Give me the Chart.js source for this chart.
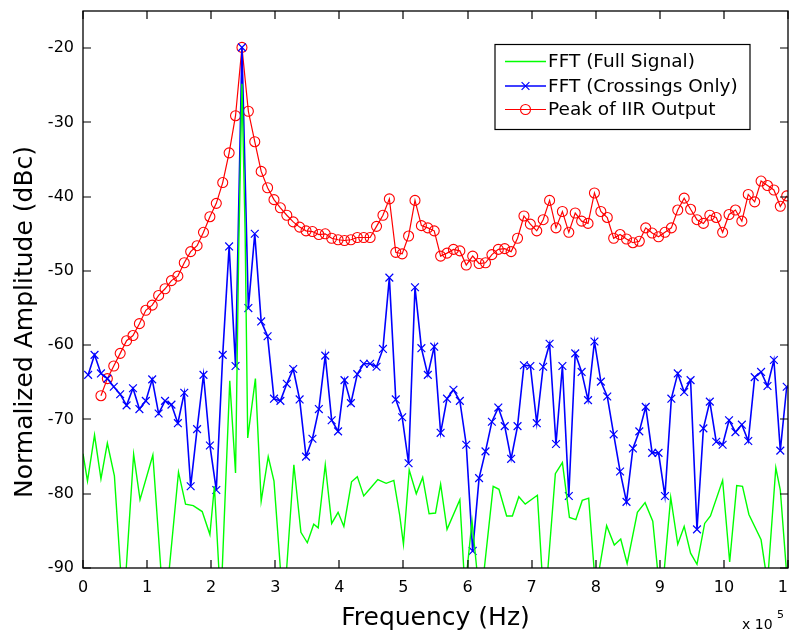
<!DOCTYPE html>
<html><head><meta charset="utf-8">
<script src="https://cdn.jsdelivr.net/npm/chart.js@4/dist/chart.umd.min.js"></script>
<style>html,body{margin:0;padding:0;background:#fff;}#wrap{width:789px;height:632px;}</style>
</head><body><div id="wrap"><canvas id="c" width="789" height="632"></canvas></div>
<script>
// Frequencies in units of 1e5 Hz (shared grid of the marker series)
const freqGrid = [0.08,0.18,0.28,0.38,0.48,0.58,0.68,0.78,0.88,0.98,
1.08,1.18,1.28,1.38,1.48,1.58,1.68,1.78,1.88,1.98,
2.08,2.18,2.28,2.38,2.48,2.58,2.68,2.78,2.88,2.98,
3.08,3.18,3.28,3.38,3.48,3.58,3.68,3.78,3.88,3.98,
4.08,4.18,4.28,4.38,4.48,4.58,4.68,4.78,4.88,4.98,
5.08,5.18,5.28,5.38,5.48,5.58,5.68,5.78,5.88,5.98,
6.08,6.18,6.28,6.38,6.48,6.58,6.68,6.78,6.88,6.98,
7.08,7.18,7.28,7.38,7.48,7.58,7.68,7.78,7.88,7.98,
8.08,8.18,8.28,8.38,8.48,8.58,8.68,8.78,8.88,8.98,
9.08,9.18,9.28,9.38,9.48,9.58,9.68,9.78,9.88,9.98,
10.08,10.18,10.28,10.38,10.48,10.58,10.68,10.78,10.88,10.98];

const fftCrossings = [-64.0,-61.3,-63.8,-64.5,-65.6,-66.6,-68.1,-65.8,-68.6,-67.5,
-64.6,-69.2,-67.5,-68.0,-70.5,-66.4,-79.0,-71.3,-64.0,-73.5,
-79.5,-61.3,-46.7,-62.8,-19.9,-55.0,-45.0,-56.8,-58.8,-67.2,
-67.5,-65.2,-63.2,-67.3,-75.0,-72.6,-68.6,-61.4,-70.1,-71.6,
-64.7,-67.8,-63.9,-62.5,-62.5,-62.9,-60.5,-50.9,-67.3,-69.7,
-75.9,-52.2,-60.4,-64.0,-60.2,-71.8,-67.2,-66.0,-67.5,-73.4,
-87.7,-77.9,-74.3,-70.3,-68.4,-70.9,-75.3,-70.9,-62.7,-62.8,
-70.5,-62.9,-59.8,-73.3,-62.8,-80.3,-61.1,-63.6,-67.4,-59.5,
-64.9,-66.9,-72.0,-77.0,-81.1,-73.9,-71.6,-68.3,-74.5,-74.5,
-80.3,-67.2,-63.8,-66.3,-64.7,-84.8,-71.2,-67.6,-73.0,-73.4,
-70.1,-71.7,-70.7,-72.9,-64.3,-63.6,-65.5,-62.0,-74.2,-65.6];

const iirPeak = [null,null,-66.8,-64.5,-62.8,-61.1,-59.4,-58.7,-57.1,-55.3,
-54.6,-53.3,-52.4,-51.3,-50.7,-48.9,-47.4,-46.6,-44.8,-42.7,
-40.9,-38.1,-34.1,-29.1,-19.9,-28.5,-32.6,-36.6,-38.8,-40.4,
-41.5,-42.5,-43.4,-44.1,-44.6,-44.7,-45.1,-45.0,-45.6,-45.8,
-45.9,-45.8,-45.5,-45.5,-45.5,-44.0,-42.5,-40.3,-47.5,-47.7,
-45.3,-40.5,-43.9,-44.2,-44.6,-48.0,-47.6,-47.1,-47.3,-49.2,
-48.0,-49.0,-48.9,-47.8,-47.1,-47.0,-47.4,-45.6,-42.6,-43.7,
-44.6,-43.1,-40.5,-44.2,-42.0,-44.8,-42.2,-43.3,-43.6,-39.5,
-42.0,-42.8,-45.6,-45.1,-45.7,-46.2,-46.0,-44.2,-44.9,-45.4,
-44.8,-44.2,-41.8,-40.2,-41.7,-43.1,-43.6,-42.5,-42.8,-44.8,
-42.4,-41.8,-43.3,-39.7,-40.7,-37.9,-38.5,-39.1,-41.3,-39.9];

// Full-signal FFT (finer resolution, no markers)
const fullFreq = [0.00,0.07,0.18,0.28,0.38,0.49,0.63,0.79,0.89,1.09,
1.27,1.49,1.60,1.72,1.86,1.98,2.05,2.15,2.29,2.38,
2.43,2.48,2.53,2.57,2.69,2.78,2.89,2.98,3.13,3.29,
3.40,3.50,3.60,3.67,3.78,3.88,3.98,4.07,4.19,4.28,
4.38,4.48,4.60,4.73,4.85,4.94,5.00,5.09,5.20,5.30,
5.40,5.50,5.58,5.68,5.88,5.96,6.07,6.20,6.40,6.49,
6.61,6.70,6.80,6.90,7.09,7.20,7.37,7.48,7.59,7.69,
7.79,7.89,8.00,8.17,8.29,8.39,8.49,8.65,8.77,8.89,
9.02,9.17,9.28,9.38,9.48,9.58,9.70,9.79,9.98,10.09,
10.20,10.29,10.39,10.58,10.68,10.81,10.88,10.99];
const fftFull = [-74.6,-78.3,-72.1,-78.0,-73.2,-77.6,-96,-74.7,-80.8,-74.8,
-97,-77.1,-81.4,-81.6,-82.4,-85.5,-79.0,-95,-64.8,-77.2,
-47,-24.8,-45,-72.5,-64.5,-81.0,-75.0,-78.3,-96,-76.1,
-85.2,-86.6,-84.1,-84.6,-76.1,-84.0,-82.5,-84.4,-78.4,-77.7,
-80.3,-79.3,-78.1,-78.6,-78.2,-82.8,-86.8,-76.8,-80.0,-77.8,
-82.7,-82.6,-78.7,-84.8,-80.8,-93,-83.7,-95,-79.0,-79.4,
-83.0,-83.0,-80.4,-81.4,-80.2,-96,-77.3,-75.8,-83.2,-83.5,
-80.9,-80.6,-93,-84.3,-86.9,-86.1,-89.4,-82.5,-81.2,-83.7,
-95,-80.5,-86.8,-84.4,-88.0,-89.5,-84.0,-83.0,-78.2,-89.2,
-78.9,-79.0,-82.8,-86.2,-92,-76.5,-79.5,-92];

const xTicks = [0,1,2,3,4,5,6,7,8,9,10,11];
const yTicks = [-90,-80,-70,-60,-50,-40,-30,-20];
const seriesLabels = ['FFT (Full Signal)','FFT (Crossings Only)','Peak of IIR Output'];
const xTitle = 'Frequency (Hz)';
const yTitle = 'Normalized Amplitude (dBc)';
const xExponent = ['x 10', '5'];

const FONT = 'DejaVu Sans';
const toPts = (xs, ys) => xs.map((x, i) => ({x: x, y: ys[i]}));

const framePlugin = {
  id: 'frame',
  afterDatasetsDraw(chart) {
    const {ctx, chartArea: a, scales} = chart;
    const L = Math.round(a.left), R = Math.round(a.right), T = Math.round(a.top), B = Math.round(a.bottom);
    ctx.save();
    ctx.strokeStyle = '#000';
    ctx.lineWidth = 1.3;
    ctx.strokeRect(L, T, R - L, B - T);
    ctx.lineWidth = 1.2;
    ctx.beginPath();
    scales.x.ticks.forEach(t => {
      const px = Math.round(scales.x.getPixelForValue(t.value));
      ctx.moveTo(px, B); ctx.lineTo(px, B - 8);
      ctx.moveTo(px, T); ctx.lineTo(px, T + 8);
    });
    scales.y.ticks.forEach(t => {
      const py = Math.round(scales.y.getPixelForValue(t.value));
      ctx.moveTo(L, py); ctx.lineTo(L + 8, py);
      ctx.moveTo(R, py); ctx.lineTo(R - 8, py);
    });
    ctx.stroke();
    ctx.restore();
  },
  afterDraw(chart) {
    const {ctx, chartArea: a} = chart;
    ctx.save();
    ctx.fillStyle = '#000';
    // Axis titles
    ctx.font = '25px "' + FONT + '"';
    ctx.textAlign = 'center';
    ctx.textBaseline = 'alphabetic';
    ctx.fillText(xTitle, (a.left + a.right) / 2, 625);
    ctx.save();
    ctx.translate(32, 322);
    ctx.rotate(-Math.PI / 2);
    ctx.fillText(yTitle, 0, 0);
    ctx.restore();
    // Exponent
    ctx.textAlign = 'left';
    ctx.font = '14px "' + FONT + '"';
    ctx.fillText(xExponent[0], 742, 629);
    ctx.font = '11px "' + FONT + '"';
    ctx.fillText(xExponent[1], 777, 618);
    // Legend
    const bx = 495, by = 44.5, bw = 255, bh = 85;
    ctx.fillStyle = '#fff';
    ctx.fillRect(bx, by, bw, bh);
    ctx.strokeStyle = '#000';
    ctx.lineWidth = 1.2;
    ctx.strokeRect(bx, by, bw, bh);
    const rows = [61.5, 86, 109.5];
    chart.data.datasets.forEach((ds, i) => {
      const yy = rows[i];
      ctx.strokeStyle = ds.borderColor;
      ctx.lineWidth = ds.borderWidth;
      ctx.beginPath(); ctx.moveTo(505, yy); ctx.lineTo(546, yy); ctx.stroke();
      if (ds.pointRadius > 0) {
        ctx.lineWidth = ds.pointBorderWidth;
        ctx.strokeStyle = ds.pointBorderColor;
        ctx.beginPath();
        if (ds.pointStyle === 'circle') {
          ctx.arc(525.5, yy, ds.pointRadius, 0, Math.PI * 2);
        } else {
          const d = ds.pointRadius * Math.SQRT1_2;
          ctx.moveTo(525.5 - d, yy - d); ctx.lineTo(525.5 + d, yy + d);
          ctx.moveTo(525.5 - d, yy + d); ctx.lineTo(525.5 + d, yy - d);
        }
        ctx.stroke();
      }
      ctx.fillStyle = '#000';
      ctx.font = '18.5px "' + FONT + '"';
      ctx.textBaseline = 'middle';
      ctx.fillText(ds.label, 548, yy + 1);
    });
    ctx.restore();
  }
};

new Chart(document.getElementById('c'), {
  type: 'line',
  data: {
    datasets: [
      {
        label: seriesLabels[0],
        data: toPts(fullFreq, fftFull),
        borderColor: '#00ff00',
        borderWidth: 1.4,
        pointRadius: 0,
        pointBorderWidth: 0,
        tension: 0
      },
      {
        label: seriesLabels[1],
        data: toPts(freqGrid, fftCrossings),
        borderColor: '#0000ff',
        borderWidth: 1.6,
        pointStyle: 'crossRot',
        pointRadius: 5.5,
        pointBorderWidth: 1.2,
        pointBorderColor: '#0000ff',
        pointBackgroundColor: '#0000ff',
        tension: 0
      },
      {
        label: seriesLabels[2],
        data: toPts(freqGrid, iirPeak),
        borderColor: '#ff0000',
        borderWidth: 1.2,
        pointStyle: 'circle',
        pointRadius: 5,
        pointBorderWidth: 1.1,
        pointBorderColor: '#ff0000',
        pointBackgroundColor: 'rgba(0,0,0,0)',
        tension: 0
      }
    ]
  },
  options: {
    responsive: false,
    devicePixelRatio: 1,
    animation: false,
    events: [],
    layout: {autoPadding: false, padding: {top: 11, right: 1, left: 0, bottom: 0}},
    plugins: {legend: {display: false}, tooltip: {enabled: false}},
    scales: {
      x: {
        type: 'linear',
        min: 0, max: 11,
        afterBuildTicks: s => { s.ticks = xTicks.map(v => ({value: v})); },
        afterFit: s => { s.height = 64; s.paddingLeft = 0; s.paddingRight = 0; },
        grid: {display: false, drawTicks: false},
        border: {display: false},
        ticks: {font: {family: FONT, size: 16}, color: '#000', padding: 10, maxRotation: 0, autoSkip: false}
      },
      y: {
        type: 'linear',
        min: -90, max: -15,
        afterBuildTicks: s => { s.ticks = yTicks.map(v => ({value: v})); },
        afterFit: s => { s.width = 83; s.paddingTop = 0; s.paddingBottom = 0; },
        grid: {display: false, drawTicks: false},
        border: {display: false},
        ticks: {font: {family: FONT, size: 16}, color: '#000', padding: 9, autoSkip: false}
      }
    }
  },
  plugins: [framePlugin]
});
</script>
</body></html>
